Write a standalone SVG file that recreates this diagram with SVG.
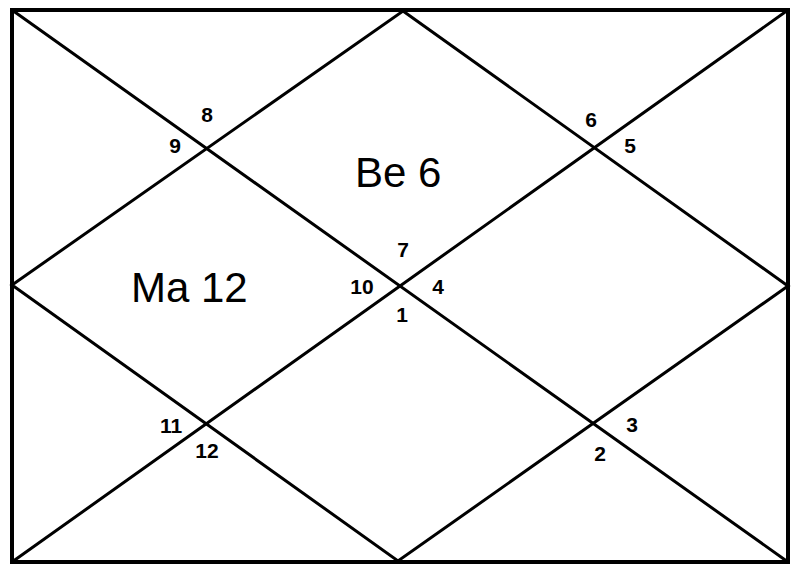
<svg xmlns="http://www.w3.org/2000/svg" width="794" height="567" viewBox="0 0 794 567">
<style>
.ln{stroke:#000;stroke-width:3;fill:none;stroke-linecap:round}
.bd{stroke:#000;stroke-width:4;fill:none}
.n{font-family:"Liberation Sans",Arial,sans-serif;font-weight:bold;font-size:21px;fill:#000;text-anchor:middle}
.p{font-family:"Liberation Sans",Arial,sans-serif;font-size:42px;fill:#000}
</style>
<rect width="794" height="567" fill="#fff"/>
<g id="connectors">
<rect class="bd" x="12" y="10" width="776" height="552"/>
<line class="ln" x1="12" y1="10" x2="788" y2="562"/>
<line class="ln" x1="788" y1="10" x2="12" y2="562"/>
<polygon class="ln" points="403,11 788,286 398,561 12,285"/>
</g>
<g id="house1"><text class="n" x="402" y="322">1</text></g>
<g id="house2"><text class="n" x="600" y="461">2</text></g>
<g id="house3"><text class="n" x="632" y="432">3</text></g>
<g id="house4"><text class="n" x="438" y="294">4</text></g>
<g id="house5"><text class="n" x="630" y="153">5</text></g>
<g id="house6"><text class="n" x="591" y="127">6</text></g>
<g id="house7"><text class="n" x="403" y="257">7</text></g>
<g id="house8"><text class="n" x="207" y="122">8</text></g>
<g id="house9"><text class="n" x="175" y="153">9</text></g>
<g id="house10"><text class="n" x="362" y="294">10</text></g>
<g id="house11"><text class="n" x="171" y="433">11</text></g>
<g id="house12"><text class="n" x="207" y="458">12</text></g>
<g id="planet-be"><text class="p" x="355" y="187">Be 6</text></g>
<g id="planet-ma"><text class="p" x="131" y="302">Ma 12</text></g>
</svg>
